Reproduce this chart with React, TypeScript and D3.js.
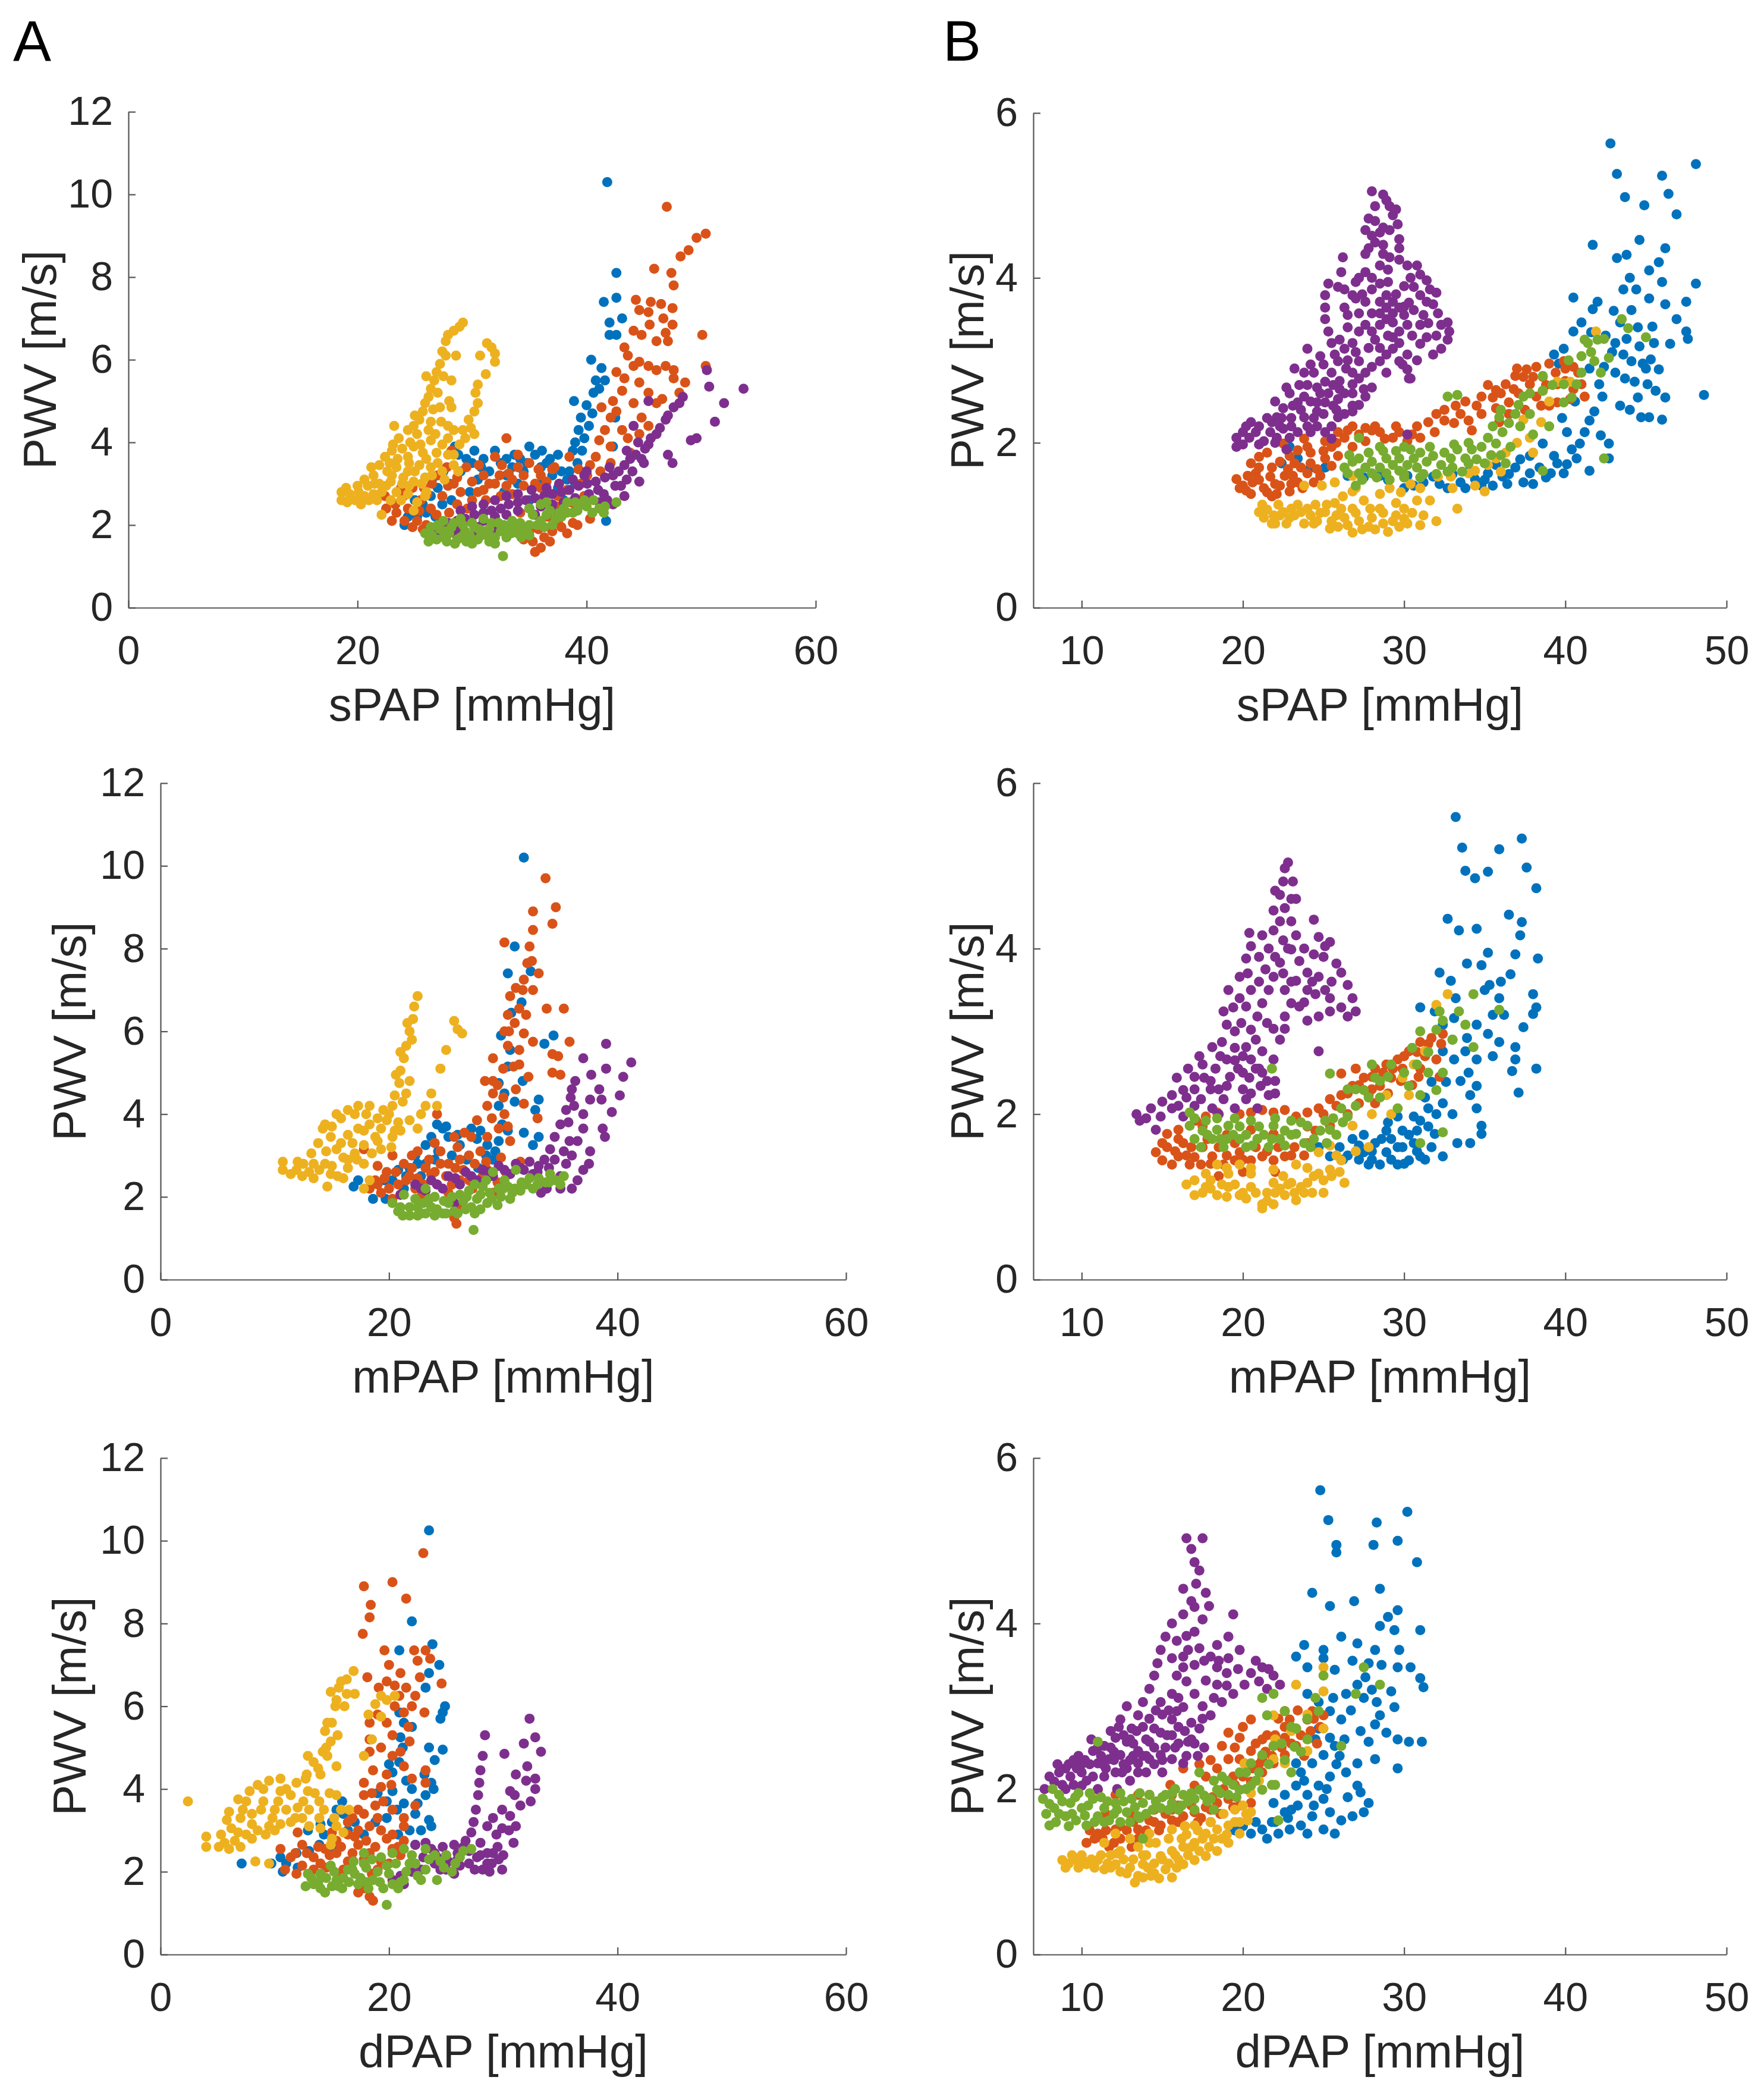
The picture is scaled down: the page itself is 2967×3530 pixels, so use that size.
import { useEffect, useRef } from "react";
import * as d3 from "d3";

// MATLAB default colour order: blue, orange, yellow, purple, green
const seriesColors = ["#0072BD", "#D95319", "#EDB120", "#7E2F8E", "#77AC30"];

const pwvTicksA = [0, 2, 4, 6, 8, 10, 12];
const pwvTicksB = [0, 2, 4, 6];
const papTicksA = [0, 20, 40, 60];
const papTicksB = [10, 20, 30, 40, 50];

// points are flat lists: x, y, x, y, ...
// ---- A, sPAP ----
const a1Blue = [
  41.8, 10.3, 42.6, 8.1, 41.5, 7.4, 42.6, 7.5, 43.1, 7.0, 42.0, 6.9, 42.0, 6.6, 42.6, 6.6, 40.4, 6.0, 41.3, 5.8,
  40.8, 5.5, 40.6, 5.2, 41.1, 5.3, 41.6, 5.5, 40.0, 4.9, 40.5, 4.7, 39.5, 4.6, 40.2, 4.4, 39.3, 4.3, 39.8, 4.1,
  39.0, 4.0, 39.6, 3.8, 38.8, 3.8, 38.9, 5.0, 39.2, 3.5, 38.5, 3.3, 41.7, 2.1, 42.5, 4.6, 42.3, 3.9,
  28.5, 3.9, 29.5, 3.6, 30.2, 3.8, 31.0, 3.6, 32.0, 3.8, 32.5, 3.5, 33.5, 3.4, 34.5, 3.3, 35.5, 3.7, 36.1, 3.8,
  36.5, 3.5, 37.0, 3.2, 37.8, 3.3, 38.3, 3.1, 37.5, 2.9, 36.0, 3.0, 34.0, 3.0, 33.0, 3.2, 31.5, 3.3, 30.5, 3.1,
  29.0, 3.3, 28.0, 3.0, 27.0, 2.9, 26.4, 2.7, 27.4, 2.5, 26.0, 2.3, 25.2, 2.2, 24.4, 2.2, 24.1, 2.0, 25.0, 2.6,
  26.8, 2.2, 28.2, 2.6, 35.0, 2.6, 38.0, 2.6, 39.0, 3.0, 40.0, 3.3, 29.8, 2.8, 32.8, 2.8, 34.8, 3.5, 36.8, 3.6,
  33.7, 3.7, 30.8, 3.4, 36.0, 3.4, 37.5, 3.7, 35.0, 3.9, 33.0, 3.6, 34.2, 3.6, 30.0, 3.5, 28.8, 3.7, 27.5, 3.3,
  26.5, 3.1, 25.7, 2.5,
];
const a1Orange = [
  47.0, 9.7, 50.4, 9.05, 49.6, 8.95, 48.9, 8.65, 48.2, 8.5, 45.9, 8.2, 47.4, 8.1, 47.6, 7.8,
  44.3, 7.45, 45.6, 7.4, 46.5, 7.35, 47.5, 7.25, 44.6, 7.2, 45.4, 7.15, 46.7, 7.0, 47.5, 6.85, 45.5, 6.85, 44.1, 6.7,
  46.9, 6.65, 44.8, 6.6, 46.1, 6.45, 47.1, 6.45, 50.1, 6.6, 43.3, 6.3, 43.6, 6.1, 44.1, 5.85, 44.6, 5.95, 45.4, 5.85,
  46.1, 5.75, 46.9, 5.85, 47.6, 5.75, 50.4, 5.85, 47.6, 5.55, 42.6, 5.7, 43.3, 5.55, 44.6, 5.45, 48.6, 5.45, 48.1, 5.2,
  43.1, 5.25, 45.4, 5.2, 46.6, 5.05, 42.3, 5.0, 44.1, 4.95, 46.1, 4.95, 42.6, 4.75, 44.8, 4.6, 42.1, 4.6, 41.3, 4.85,
  43.1, 4.3, 41.6, 4.3, 45.4, 4.4, 44.6, 4.2, 41.1, 4.05, 42.1, 3.9, 43.6, 4.1, 43.8, 3.75, 40.8, 3.65, 40.3, 3.45,
  42.1, 3.5, 40.05, 3.2, 41.2, 3.3, 38.5, 3.65, 37.2, 3.4, 39.3, 3.35,
  33.0, 4.1, 28.2, 3.8, 32.0, 3.65, 32.6, 3.45, 34.0, 3.4, 35.0, 3.5, 33.2, 3.25, 34.5, 3.2, 36.0, 3.2, 31.0, 3.2,
  30.0, 3.05, 28.7, 3.15, 27.9, 2.95, 29.0, 2.8, 31.0, 2.85, 32.0, 3.0, 33.0, 2.95, 34.5, 2.95, 36.0, 2.9, 27.4, 2.7,
  28.7, 2.5, 30.0, 2.6, 26.4, 2.4, 26.9, 2.25, 25.4, 2.35, 24.4, 2.4, 22.9, 2.6, 22.4, 2.7, 23.4, 2.3, 24.1, 2.1,
  25.2, 2.1, 25.7, 1.9, 23.8, 2.9, 25.8, 2.9,
  35.0, 1.85, 34.5, 1.65, 35.3, 1.6, 36.0, 1.45, 35.5, 1.35, 36.3, 1.7, 37.0, 1.85, 37.8, 1.95, 38.3, 1.8, 38.8, 2.05,
  39.0, 2.35, 39.8, 2.7, 40.3, 2.15, 39.5, 3.0, 38.3, 2.85, 37.5, 2.7, 33.8, 1.9, 36.6, 2.2, 37.4, 2.45, 34.2, 2.3,
  23.3, 2.5, 24.0, 2.7, 24.8, 2.9, 25.5, 2.6, 26.1, 2.75, 26.5, 3.0, 27.0, 3.2, 27.8, 3.4, 28.4, 3.0, 29.5, 3.4,
  30.5, 2.8, 30.6, 3.45, 31.5, 3.0, 32.4, 3.2, 33.5, 3.1, 34.0, 3.7, 35.5, 3.0, 35.8, 3.35, 36.5, 3.05, 37.0, 3.35,
  33.5, 2.75, 32.5, 2.7, 31.2, 2.6, 29.6, 2.4, 28.0, 2.3, 27.5, 2.05, 26.0, 2.0, 24.8, 1.95, 23.0, 2.1, 22.5, 2.4,
  36.8, 1.6, 35.8, 1.9, 37.5, 2.1, 38.0, 2.3, 38.6, 2.55, 39.2, 2.0,
];
const a1Yellow = [
  29.2, 6.9, 28.9, 6.8, 28.4, 6.7, 27.9, 6.6, 27.7, 6.45, 27.4, 6.2, 27.7, 6.1, 27.2, 5.9, 26.9, 5.7, 26.7, 5.5,
  26.4, 5.3, 26.2, 5.1, 25.9, 4.95, 25.7, 4.75, 27.2, 4.85, 28.2, 4.85, 25.4, 4.55, 24.9, 4.4, 24.4, 4.3, 25.2, 4.2,
  26.2, 4.3, 26.4, 4.05, 27.4, 3.95, 28.4, 4.3, 29.2, 4.3, 29.4, 4.1, 23.6, 4.1, 23.1, 3.95, 23.9, 3.85, 24.4, 3.65,
  24.9, 3.9, 25.7, 3.75, 26.9, 3.75, 27.9, 3.7, 28.9, 3.95, 22.4, 3.65, 21.9, 3.45, 22.6, 3.3, 23.4, 3.4, 24.4, 3.3,
  25.4, 3.45, 26.4, 3.4, 27.4, 3.3, 28.4, 3.45, 21.4, 3.2, 21.9, 3.0, 22.9, 3.05, 23.9, 3.0, 24.9, 3.05, 25.9, 3.15,
  20.9, 2.95, 20.1, 2.8, 19.3, 2.75, 18.6, 2.8, 18.6, 2.6, 19.1, 2.55, 19.8, 2.6, 20.6, 2.7, 21.4, 2.75, 22.1, 2.8,
  23.4, 2.8, 24.4, 2.75, 25.2, 2.55, 24.9, 2.35, 22.1, 2.25, 26.0, 2.8, 20.3, 2.5,
  31.3, 6.4, 31.7, 6.3, 32.0, 6.15, 32.0, 5.95, 30.7, 6.1, 31.2, 5.65, 30.5, 5.4, 30.3, 5.2, 30.5, 4.95, 30.2, 4.75,
  29.7, 4.55, 29.9, 4.35, 30.2, 4.2,
  20.0, 2.95, 20.6, 3.1, 21.2, 3.4, 21.0, 2.6, 21.7, 2.6, 22.5, 2.95, 23.0, 3.2, 23.5, 3.6, 23.0, 3.8, 22.9, 2.6,
  23.8, 2.6, 24.0, 3.15, 24.5, 3.5, 24.6, 4.0, 25.0, 3.3, 25.5, 3.95, 25.6, 3.0, 26.0, 3.6, 26.5, 3.2, 26.8, 4.2,
  27.0, 3.5, 27.3, 4.5, 27.6, 3.1, 27.9, 4.1, 28.0, 5.0, 28.4, 3.7, 28.2, 5.5, 28.6, 6.1, 27.0, 5.2, 26.6, 4.8,
  24.5, 2.95, 23.2, 4.4, 22.8, 3.5, 21.5, 3.0, 20.2, 2.65, 19.0, 2.9, 25.9, 2.7, 26.4, 4.5, 27.9, 4.4, 28.8, 3.3,
  25.0, 4.65, 26.0, 5.6, 27.5, 5.6,
];
const a1Purple = [
  53.7, 5.3, 52.0, 4.95, 51.2, 4.5, 50.5, 5.75, 50.7, 5.35, 49.6, 4.1, 49.1, 4.05, 48.4, 5.1, 48.1, 4.95, 47.6, 4.85,
  47.1, 4.65, 46.9, 4.55, 46.4, 4.35, 46.1, 4.2, 45.6, 4.1, 45.4, 3.95, 45.1, 3.85, 45.4, 5.0, 44.1, 4.4, 44.3, 3.7,
  43.8, 3.6, 43.3, 3.45, 42.8, 3.3, 47.1, 3.7, 47.5, 3.5, 44.6, 3.05, 43.3, 2.7, 41.8, 2.6, 42.3, 2.5, 44.8, 3.6,
  42.3, 3.2, 41.6, 3.15, 40.8, 3.05, 40.05, 3.0, 39.3, 2.95, 38.5, 2.85, 37.8, 2.8, 37.0, 2.75, 36.3, 2.7, 35.5, 2.65,
  34.7, 2.6, 34.0, 2.55, 33.2, 2.5, 32.5, 2.4, 31.7, 2.35, 31.0, 2.3, 30.2, 2.25, 29.4, 2.15, 28.7, 2.1, 27.9, 2.05,
  27.2, 1.95, 26.4, 1.9,
  41.0, 2.85, 40.2, 2.75, 39.0, 2.65, 38.0, 2.55, 37.0, 2.5, 36.0, 2.45, 35.0, 2.4, 34.0, 2.35, 33.0, 2.25, 32.0, 2.2,
  31.0, 2.1, 30.0, 2.05, 29.0, 1.95, 28.0, 1.9, 27.0, 1.8,
  39.8, 3.2, 38.8, 3.1, 37.6, 3.0, 36.5, 2.9, 35.2, 2.85, 34.0, 2.75, 33.0, 2.7, 32.0, 2.6, 31.0, 2.5, 30.0, 2.45,
  29.0, 2.35, 30.2, 1.8, 32.5, 1.95, 41.1, 2.55, 40.0, 3.3,
  28.5, 1.8, 30.5, 1.95, 32.0, 1.9, 33.5, 2.05, 35.5, 2.25, 37.5, 2.3, 39.5, 2.5, 41.5, 2.75, 42.5, 2.95, 43.5, 3.1,
  43.0, 2.95, 44.0, 3.3, 45.0, 3.5, 42.0, 3.4, 43.5, 3.8, 44.5, 4.0,
];
const a1Green = [
  25.9, 1.8, 26.4, 1.95, 26.9, 1.65, 27.7, 1.85, 28.4, 2.05, 28.7, 1.65, 29.4, 1.85, 30.0, 2.05, 30.5, 1.65, 31.0, 1.85,
  31.7, 2.05, 32.0, 1.7, 33.0, 1.9, 33.5, 2.1, 34.0, 1.8, 34.5, 1.95, 35.3, 2.25, 36.0, 2.1, 36.8, 2.35, 37.3, 2.15,
  38.0, 2.4, 38.8, 2.3, 39.5, 2.5, 40.6, 2.6, 41.1, 2.4, 42.6, 2.55, 31.0, 2.15, 35.0, 2.4, 36.0, 2.5, 32.7, 1.25,
  26.5, 1.75, 27.2, 1.9, 27.5, 1.7, 28.0, 1.8, 29.0, 1.7, 29.8, 1.75, 30.8, 1.75, 31.5, 1.9, 32.5, 1.85, 33.4, 1.8,
  34.2, 2.05, 35.0, 2.0, 29.5, 1.6, 31.5, 1.6, 33.0, 1.7, 28.2, 1.95, 30.2, 1.95, 32.3, 2.05, 36.5, 2.25, 37.8, 2.2,
  39.2, 2.35, 40.0, 2.45, 41.6, 2.45, 34.8, 1.85,
  26.2, 1.6, 27.0, 2.0, 27.8, 1.6, 28.5, 1.55, 29.2, 2.0, 30.0, 1.55, 30.6, 1.9, 31.3, 1.75, 32.0, 1.55, 32.8, 2.0,
  33.6, 1.95, 34.3, 1.7, 35.0, 1.75, 35.7, 2.0, 36.3, 1.95, 37.0, 2.0, 37.6, 2.3, 38.3, 2.3, 39.0, 2.55, 36.5, 2.55,
  38.3, 2.55, 39.8, 2.6, 40.5, 2.3, 41.5, 2.3, 29.0, 2.15, 27.5, 2.1,
];

// ---- A, mPAP ----
const a2Blue = [
  31.8, 10.2, 31.0, 8.05, 30.4, 7.4, 32.4, 7.45, 31.6, 6.7, 30.7, 6.45, 33.6, 5.7, 34.4, 5.9, 29.8, 5.9, 30.6, 5.55,
  30.4, 5.15, 31.7, 4.8, 29.6, 4.75, 30.1, 4.5, 33.1, 4.35, 32.8, 4.1, 29.6, 4.2, 29.9, 3.75, 31.8, 3.55, 33.1, 3.45,
  29.6, 3.35, 32.6, 3.25, 31.0, 4.3,
  24.2, 3.75, 24.7, 3.65, 25.2, 3.45, 23.7, 3.45, 23.2, 3.25, 22.3, 3.0, 21.8, 2.7, 20.8, 2.65, 20.3, 2.4, 16.9, 2.25,
  17.3, 2.4, 18.6, 1.95, 19.6, 2.4, 26.2, 3.25, 27.2, 3.65, 27.7, 3.4, 28.6, 3.25, 29.1, 2.9, 23.2, 2.8, 21.3, 2.2,
  19.7, 1.95, 25.5, 3.0, 24.3, 3.1, 22.8, 2.5, 26.8, 2.9, 27.8, 2.7,
  21.5, 2.5, 22.5, 2.8, 24.0, 2.9, 25.0, 3.7, 26.0, 3.5, 28.0, 3.6, 29.3, 3.1, 30.4, 3.6, 28.5, 3.0,
];
const a2Orange = [
  33.7, 9.7, 32.6, 8.9, 34.6, 9.0, 34.3, 8.6, 32.6, 8.45, 30.1, 8.15, 32.3, 8.05, 32.1, 7.65, 33.1, 7.4, 31.8, 7.25,
  31.1, 7.05, 32.6, 7.0, 30.6, 6.85, 33.8, 6.55, 35.3, 6.55, 31.4, 6.55, 30.4, 6.4, 32.0, 6.4, 30.1, 6.0, 31.8, 5.95,
  32.6, 5.75, 35.8, 5.75, 30.4, 5.65, 31.4, 5.55, 29.1, 5.35, 34.3, 5.45, 34.8, 5.4, 30.9, 5.15, 29.1, 4.8, 34.3, 5.0,
  35.0, 4.95, 28.4, 4.8, 31.1, 4.6, 29.1, 4.5, 31.8, 4.25, 28.6, 4.2, 30.1, 4.0, 27.7, 3.85, 29.6, 3.65, 28.6, 3.45,
  30.6, 3.35, 27.2, 3.45, 25.7, 3.45, 33.0, 3.9, 32.2, 4.9,
  24.2, 4.0, 26.2, 2.9, 25.2, 2.8, 23.2, 2.7, 21.3, 2.8, 19.8, 2.6, 18.8, 2.4, 18.3, 2.2, 19.3, 2.1, 20.3, 1.95,
  22.3, 2.2, 24.2, 2.3, 26.2, 2.4, 28.2, 2.5, 21.8, 2.5, 23.7, 2.55, 25.2, 2.1, 26.2, 1.75, 25.7, 1.5, 25.9, 1.35,
  29.1, 2.1, 20.3, 3.0, 17.8, 3.15, 22.5, 3.1, 24.5, 3.1, 27.0, 3.0, 28.5, 2.85, 20.8, 2.3, 22.8, 2.0, 27.3, 2.2,
  30.2, 2.6, 31.5, 2.85, 19.0, 2.75,
  19.0, 2.3, 19.6, 2.45, 20.0, 2.2, 20.6, 2.6, 21.0, 2.05, 21.5, 2.4, 22.0, 2.7, 22.5, 2.45, 23.0, 2.3, 23.5, 2.9,
  24.0, 2.6, 24.5, 2.8, 25.0, 2.5, 25.5, 2.3, 25.8, 2.7, 26.5, 2.65, 27.0, 2.4, 27.5, 2.8, 28.0, 3.1, 28.6, 2.65,
  29.5, 2.35, 29.8, 2.95, 26.0, 3.2, 24.0, 3.3, 22.0, 3.0, 26.6, 3.55, 29.0, 3.9, 30.0, 4.4, 30.4, 3.7, 29.5, 4.7,
  31.4, 5.2, 30.0, 5.1, 30.5, 6.0, 31.0, 6.2, 31.7, 7.0, 32.5, 7.7,
];
const a2Yellow = [
  22.5, 6.85, 22.2, 6.6, 22.1, 6.3, 21.8, 6.0, 21.5, 5.65, 21.3, 5.35, 21.0, 5.05, 20.9, 4.75, 20.5, 4.45, 20.3, 4.2,
  19.8, 3.85, 21.8, 4.8, 25.7, 6.25, 26.0, 6.05, 26.4, 5.95, 25.0, 5.55, 24.5, 5.1, 23.7, 4.5, 23.2, 4.2, 24.2, 4.2,
  22.8, 4.0, 21.8, 3.85, 22.5, 3.65, 18.3, 4.2, 17.3, 4.2, 16.4, 4.1, 15.4, 4.0, 14.4, 3.75, 14.2, 3.65, 14.9, 3.45,
  15.4, 3.15, 16.4, 2.9, 17.8, 3.25, 18.8, 3.45, 19.3, 3.65, 17.3, 3.65, 16.4, 3.5, 18.3, 3.75, 20.3, 3.45, 19.3, 3.15,
  17.8, 2.8, 17.0, 3.05, 13.2, 3.05, 13.4, 2.8, 14.4, 2.8, 16.4, 2.7, 11.9, 2.65, 10.7, 2.85, 10.7, 2.65, 11.4, 2.55,
  12.4, 2.5, 13.4, 2.45, 14.9, 2.55, 14.6, 2.25, 17.8, 2.2, 18.3, 2.4, 15.8, 3.3, 21.0, 3.6, 20.0, 4.0,
  13.0, 2.6, 13.9, 2.65, 15.0, 2.75, 15.5, 2.5, 16.0, 2.95, 16.8, 3.3, 17.2, 2.9, 17.8, 3.6, 18.5, 3.05, 19.0, 3.9,
  19.5, 4.1, 20.2, 3.2, 20.8, 3.8, 21.2, 4.3, 20.6, 4.95, 21.0, 5.5, 21.6, 6.2, 22.0, 5.8, 21.5, 4.5, 15.0, 3.7,
  15.8, 3.9, 14.5, 3.1, 12.5, 2.8, 16.0, 2.45, 13.8, 3.3, 12.0, 2.85, 18.0, 4.0, 19.0, 3.35, 17.0, 4.0, 20.5, 3.6,
];
const a2Purple = [
  39.0, 5.7, 41.2, 5.25, 40.5, 4.9, 39.0, 5.1, 37.0, 5.35, 37.7, 4.95, 38.4, 4.6, 37.6, 4.35, 38.6, 4.35, 40.2, 4.45,
  39.5, 4.05, 37.0, 4.0, 36.0, 4.6, 36.3, 4.8, 35.9, 4.4, 35.5, 4.1, 35.0, 3.75, 34.5, 3.45, 34.1, 3.15, 33.6, 2.9,
  33.1, 2.75, 38.7, 3.65, 38.9, 3.45, 37.0, 3.65, 36.5, 3.35, 35.8, 3.35, 35.3, 3.1, 37.6, 3.1, 37.5, 2.8, 37.0, 2.65,
  36.5, 2.4, 36.0, 2.2, 35.0, 2.2, 33.3, 2.1, 36.2, 4.2, 35.7, 3.8,
  23.7, 2.4, 25.2, 2.5, 26.7, 2.6, 28.2, 2.65, 29.6, 2.75, 31.1, 2.8, 32.3, 2.85, 32.6, 2.55, 23.2, 2.15, 24.7, 2.2,
  26.2, 2.3, 27.7, 2.4, 29.1, 2.5, 30.6, 2.55, 22.3, 2.3, 25.7, 1.85, 31.8, 2.65, 34.0, 2.7, 21.0, 2.05,
  24.2, 2.3, 25.8, 2.45, 27.2, 2.5, 28.7, 2.6, 30.1, 2.65, 31.5, 2.7, 33.0, 2.6, 34.2, 2.4, 35.0, 2.5, 22.8, 2.2,
  33.8, 2.2, 34.5, 2.9, 35.5, 2.8, 36.0, 3.0,
];
const a2Green = [
  20.3, 1.85, 20.8, 1.65, 21.8, 1.75, 22.3, 1.95, 22.8, 1.6, 23.7, 1.75, 24.7, 1.6, 25.2, 1.85, 26.2, 2.05, 26.7, 1.7,
  27.7, 1.95, 28.2, 2.25, 28.6, 1.85, 29.6, 2.2, 30.1, 2.4, 30.6, 1.95, 31.6, 2.35, 32.6, 2.2, 33.1, 2.45, 34.1, 2.55,
  35.3, 2.5, 29.1, 2.6, 31.1, 2.65, 23.2, 2.2, 21.3, 2.05, 27.4, 1.2,
  21.2, 1.55, 22.5, 1.75, 23.5, 1.95, 24.2, 1.7, 25.7, 1.65, 26.5, 1.9, 27.2, 1.75, 28.0, 2.05, 29.0, 1.95, 29.8, 2.0,
  31.0, 2.2, 32.0, 2.3, 24.8, 1.9, 27.0, 2.15, 33.7, 2.35, 34.6, 2.4, 30.4, 2.25,
  21.0, 1.75, 21.8, 1.55, 22.5, 1.55, 23.2, 1.6, 23.0, 1.85, 24.0, 1.55, 24.0, 2.0, 25.0, 1.6, 25.5, 2.0, 26.0, 1.6,
  26.8, 2.0, 27.5, 1.6, 28.0, 1.7, 28.8, 2.1, 29.5, 1.8, 30.0, 2.2, 30.8, 2.1, 31.5, 2.15, 32.3, 2.45, 33.0, 2.3,
  34.0, 2.35, 35.0, 2.3, 28.5, 2.4, 27.5, 2.3,
];

// ---- A, dPAP ----
const a3Blue = [
  23.5, 10.25, 22.0, 8.05, 20.9, 7.35, 23.8, 7.5, 24.4, 7.0, 23.5, 6.8, 23.2, 6.45, 24.7, 5.85, 24.9, 6.0, 24.5, 5.7,
  20.9, 5.85, 21.3, 5.6, 22.0, 5.5, 21.0, 5.25, 21.2, 5.0, 23.5, 5.0, 24.7, 4.95, 20.9, 4.65, 24.0, 4.7, 20.3, 4.4,
  23.1, 4.35, 23.7, 4.15, 23.9, 4.0, 23.2, 3.85, 20.3, 3.95, 19.8, 3.7, 21.3, 3.65, 22.5, 3.65, 20.7, 3.5, 22.3, 3.4,
  23.5, 3.25, 23.7, 3.1, 19.8, 3.3, 21.8, 3.0, 15.9, 3.7, 15.4, 3.5, 12.9, 3.0, 10.5, 2.35, 10.7, 2.0, 7.1, 2.2,
  9.7, 2.2, 11.9, 2.45, 13.9, 2.65, 16.4, 3.0, 17.8, 2.9, 22.3, 2.65, 20.8, 2.9, 15.0, 3.2, 14.3, 2.9,
  11.0, 2.2, 12.0, 2.1, 13.0, 2.5, 14.0, 3.15, 15.0, 2.6, 16.0, 3.4, 17.0, 3.2, 18.8, 3.2, 19.0, 3.9, 20.0, 4.6,
  22.0, 4.0, 22.8, 3.0, 21.5, 4.2,
];
const a3Orange = [
  23.0, 9.7, 17.8, 8.9, 20.3, 9.0, 21.5, 8.6, 18.4, 8.45, 18.3, 8.15, 17.7, 7.75, 19.6, 7.35, 22.2, 7.35, 23.2, 7.35,
  23.6, 7.15, 22.5, 7.1, 21.0, 6.8, 19.8, 6.6, 18.1, 6.7, 19.1, 6.45, 21.5, 6.45, 20.9, 6.25, 24.6, 6.55, 22.3, 6.25,
  20.5, 6.0, 21.3, 5.85, 23.1, 5.85, 19.8, 5.6, 18.3, 5.6, 18.3, 5.2, 20.3, 5.3, 21.8, 5.15, 19.3, 5.0, 18.3, 4.9,
  20.3, 4.8, 21.3, 4.55, 18.6, 4.45, 19.8, 4.35, 23.2, 4.45, 22.0, 4.25, 19.3, 4.05, 17.8, 4.15, 23.2, 4.15, 17.8, 3.85,
  18.8, 3.6, 17.3, 3.5, 20.3, 3.5, 21.3, 3.3, 19.0, 3.3, 22.3, 3.6,
  10.5, 2.55, 11.4, 2.35, 10.9, 2.05, 11.9, 1.95, 12.4, 2.15, 13.4, 2.35, 14.4, 2.55, 15.4, 2.75, 16.4, 2.9, 17.3, 3.0,
  18.3, 3.1, 19.3, 3.0, 20.3, 2.9, 21.3, 2.75, 17.3, 2.65, 15.4, 2.45, 20.3, 2.55, 13.4, 2.05, 16.4, 2.25, 19.3, 2.25,
  17.8, 1.6, 18.3, 1.4, 17.3, 1.5, 18.6, 1.3, 16.4, 3.2, 12.4, 2.65, 14.5, 2.1, 18.3, 2.45, 15.5, 1.95, 18.5, 1.95,
  21.0, 2.4, 12.0, 2.95,
  11.8, 2.45, 12.8, 2.45, 13.8, 2.6, 14.0, 2.2, 14.8, 2.4, 15.0, 2.95, 15.8, 2.6, 16.0, 2.05, 16.8, 2.45, 17.0, 2.85,
  17.8, 2.3, 18.0, 2.75, 18.8, 2.6, 19.0, 2.05, 19.8, 2.8, 20.0, 2.2, 20.8, 2.6, 21.3, 3.1, 16.8, 3.3, 17.8, 3.4,
  18.5, 3.9, 19.5, 3.7, 20.2, 4.1, 21.0, 4.9, 21.7, 5.5, 22.0, 6.0, 22.7, 6.7, 20.5, 6.5, 19.0, 5.8, 20.0, 7.0,
];
const a3Yellow = [
  16.9, 6.85, 16.3, 6.65, 15.6, 6.45, 14.9, 6.35, 15.4, 6.15, 16.1, 6.0, 14.6, 5.6, 14.4, 5.4, 14.9, 5.15, 14.2, 4.9,
  13.4, 4.65, 12.9, 4.8, 14.6, 4.8, 15.4, 4.55, 14.0, 4.35, 12.7, 4.25, 11.9, 4.15, 10.5, 4.25, 9.5, 4.2, 8.5, 4.1,
  7.8, 3.95, 7.5, 3.7, 9.0, 3.7, 10.5, 3.95, 11.4, 3.85, 12.9, 3.95, 13.9, 3.7, 12.4, 3.3, 11.4, 3.2, 10.5, 3.15,
  9.5, 3.1, 8.5, 3.0, 7.5, 2.9, 6.5, 2.75, 5.6, 2.7, 5.1, 2.6, 6.0, 2.55, 5.8, 3.25, 6.0, 3.45, 4.0, 2.85,
  4.0, 2.6, 2.4, 3.7, 8.3, 2.25, 9.5, 2.2, 13.9, 3.3, 15.4, 3.1, 14.9, 2.65, 18.8, 6.05, 19.3, 6.25, 19.8, 6.15,
  20.5, 6.25, 19.3, 5.75, 17.8, 4.8, 15.4, 3.85, 18.5, 5.2, 16.5, 3.5, 7.0, 3.3, 10.0, 3.5, 12.0, 3.55, 8.0, 3.4,
  5.3, 2.9, 6.2, 3.05, 6.8, 2.95, 7.2, 3.5, 8.0, 3.15, 8.8, 3.5, 9.2, 2.9, 9.8, 3.3, 10.3, 3.7, 11.0, 3.5,
  11.8, 3.3, 12.5, 3.7, 13.0, 3.5, 13.5, 3.9, 14.3, 3.5, 14.8, 3.9, 15.2, 3.3, 15.8, 3.5, 16.0, 2.95, 15.0, 2.8,
  14.0, 3.05, 13.0, 3.1, 12.8, 4.35, 13.8, 4.5, 14.5, 5.0, 15.0, 5.6, 15.3, 6.0, 15.8, 6.6, 16.3, 6.3, 15.5, 5.3,
  9.0, 4.0, 11.0, 4.0, 7.0, 2.6, 8.0, 2.8, 6.8, 3.75, 10.0, 3.0, 17.0, 6.3, 18.2, 5.8,
];
const a3Purple = [
  32.3, 5.7, 32.8, 5.25, 33.3, 4.9, 31.8, 5.1, 32.1, 4.55, 30.1, 4.85, 31.1, 4.35, 32.8, 4.25, 32.8, 4.0, 30.6, 3.95,
  29.9, 3.5, 30.6, 3.35, 29.1, 3.3, 29.9, 3.05, 28.6, 3.1, 29.4, 2.9, 31.1, 3.1, 30.9, 2.7, 28.6, 2.2, 29.9, 2.05,
  31.5, 3.6, 32.4, 3.7,
  28.4, 5.3, 28.2, 4.8, 28.0, 4.45, 27.9, 4.15, 27.8, 3.85, 27.6, 3.5, 27.4, 3.2, 27.2, 2.95, 26.7, 2.75, 25.7, 2.65,
  24.7, 2.6, 23.7, 2.55, 24.2, 2.35, 25.2, 2.25, 26.2, 2.15, 27.7, 2.35, 28.6, 2.45, 28.2, 2.05, 25.7, 1.95, 20.3, 1.8,
  21.3, 1.7, 22.8, 2.05, 22.3, 2.65, 23.2, 2.7, 29.1, 2.45, 29.6, 2.3, 27.0, 2.5, 26.0, 2.45, 28.0, 2.7, 24.5, 2.05,
  23.0, 2.35,
  24.0, 2.45, 25.0, 2.4, 26.0, 2.3, 27.0, 2.2, 28.0, 2.4, 29.0, 2.2, 29.5, 2.6, 30.0, 2.4, 28.8, 2.0, 27.5, 2.05,
  26.5, 2.6, 25.0, 2.05, 24.0, 2.2, 22.0, 2.0, 21.0, 1.9, 30.5, 3.0, 31.0, 3.85, 32.0, 4.2,
];
const a3Green = [
  12.9, 1.95, 13.4, 1.7, 12.7, 1.65, 14.9, 2.15, 15.4, 1.8, 15.9, 1.6, 16.4, 2.05, 16.9, 2.25, 17.8, 2.45, 19.3, 2.35,
  20.3, 2.45, 21.3, 2.55, 23.2, 2.55, 17.3, 1.7, 20.3, 1.7, 21.3, 1.8, 23.2, 2.05, 26.2, 2.35, 27.2, 2.55, 24.2, 1.8,
  19.8, 1.2, 14.4, 1.5,
  14.0, 1.95, 15.0, 1.65, 16.0, 1.85, 17.0, 1.95, 18.0, 2.1, 18.6, 1.8, 19.0, 2.0, 19.8, 2.15, 21.8, 2.2, 22.5, 1.9,
  24.8, 2.1, 25.5, 2.0, 13.8, 1.75, 18.2, 1.6, 22.0, 2.4, 24.0, 2.4,
  13.2, 1.85, 14.0, 1.6, 14.5, 1.85, 15.2, 2.0, 15.6, 1.65, 16.5, 1.75, 16.8, 2.05, 17.5, 1.85, 17.8, 2.2, 18.5, 2.3,
  19.2, 1.75, 20.0, 1.95, 20.6, 2.2, 21.0, 1.75, 21.5, 2.0, 22.3, 2.2, 22.8, 1.8, 23.5, 2.3, 24.5, 2.25, 25.0, 2.4,
  25.8, 2.2, 26.5, 2.5, 20.8, 1.6, 19.5, 1.6, 18.0, 1.75,
];

// ---- B, sPAP ----
const b1Blue = [
  42.8, 5.63, 43.2, 5.26, 48.1, 5.38, 46.0, 5.24, 43.7, 4.98, 46.4, 5.02, 44.9, 4.88, 46.9, 4.77, 41.7, 4.4, 44.6, 4.46,
  46.2, 4.36, 43.2, 4.24, 43.8, 4.28, 45.8, 4.19, 45.2, 4.09, 44.0, 4.0, 46.0, 3.95, 48.1, 3.93, 40.5, 3.76, 43.6, 3.86,
  44.4, 3.86, 45.2, 3.75, 46.2, 3.68, 47.5, 3.71, 42.0, 3.71, 41.7, 3.62, 44.1, 3.61, 43.4, 3.46, 46.9, 3.5, 41.0, 3.46,
  40.5, 3.35, 41.6, 3.34, 45.4, 3.41, 47.5, 3.35, 47.6, 3.26, 39.9, 3.14, 43.1, 3.21, 43.8, 3.26, 44.6, 3.17, 45.5, 3.21,
  39.3, 3.07, 39.6, 2.96, 42.9, 3.1, 43.6, 3.07, 44.1, 2.99, 44.8, 2.96, 45.3, 3.01, 45.8, 2.89, 48.6, 2.58, 42.4, 2.92,
  43.1, 2.85, 43.7, 2.78, 44.3, 2.74, 45.1, 2.71, 45.6, 2.63, 46.2, 2.55, 42.1, 2.71, 42.3, 2.56, 43.4, 2.45, 44.0, 2.4,
  44.7, 2.31, 45.2, 2.31, 46.0, 2.28, 41.8, 2.38, 41.5, 2.27, 41.2, 2.13, 42.2, 2.09, 42.7, 1.99, 40.9, 1.99, 40.4, 1.92,
  40.7, 1.81, 40.1, 1.74, 39.9, 1.63, 41.5, 1.66, 42.7, 1.81,
  38.4, 1.7, 39.1, 1.63, 37.8, 1.63, 36.9, 1.7, 36.1, 1.59, 35.2, 1.63, 34.4, 1.56, 33.5, 1.52, 32.7, 1.45, 37.4, 1.52,
  35.7, 1.73, 37.8, 1.84, 39.3, 1.84, 38.6, 1.99, 40.1, 2.13, 31.8, 1.59, 30.6, 1.48, 25.1, 1.7, 24.2, 1.7, 23.4, 1.81,
  22.9, 1.95, 33.0, 1.62, 34.8, 1.48, 36.4, 1.5, 29.0, 1.55, 27.5, 1.58, 22.4, 1.75,
  30.0, 1.45, 31.2, 1.52, 32.2, 1.5, 33.8, 1.45, 35.5, 1.48, 36.5, 1.62, 38.0, 1.5, 38.8, 1.58, 39.5, 1.75, 37.2, 1.8,
  34.0, 1.65, 35.0, 1.55, 26.5, 1.6, 28.5, 1.6, 30.2, 1.6, 39.8, 2.3, 40.6, 2.5, 41.5, 2.9, 42.5, 3.3, 43.0, 3.6,
  44.5, 3.4, 45.0, 2.9, 46.5, 3.2, 44.5, 2.55,
];
const b1Orange = [
  19.6, 1.56, 20.0, 1.48, 20.6, 1.52, 21.3, 1.45, 20.8, 1.63, 21.7, 1.59, 22.3, 1.48, 22.9, 1.41, 22.1, 1.38, 23.4, 1.52,
  24.0, 1.63, 24.4, 1.52, 23.6, 1.7, 22.3, 1.77, 23.4, 1.91, 25.1, 2.02, 25.9, 2.13, 26.8, 2.2, 27.6, 2.18, 28.5, 2.13,
  29.3, 2.06, 30.2, 2.02, 31.0, 2.06, 31.9, 2.13, 32.5, 2.27, 33.5, 2.35, 34.8, 2.56, 35.7, 2.64, 36.3, 2.71, 36.9, 2.81,
  37.6, 2.89, 38.2, 2.92, 39.0, 2.96, 39.9, 2.99, 40.5, 2.92, 41.0, 2.71, 41.2, 2.56, 39.5, 2.71, 37.8, 2.71, 37.1, 2.6,
  36.5, 2.49, 35.7, 2.42, 34.8, 2.35, 34.0, 2.27, 33.1, 2.24, 36.5, 2.35, 39.5, 2.49, 40.3, 2.53, 38.2, 2.56, 21.5, 1.88,
  22.9, 1.84, 24.2, 1.88, 25.5, 1.95, 26.3, 2.06, 25.1, 1.81, 25.9, 1.84, 26.8, 1.95, 27.6, 2.02, 22.5, 1.99, 29.7, 2.13,
  24.8, 1.6, 25.5, 1.72, 21.0, 1.7, 20.2, 1.42, 21.8, 1.35, 23.1, 1.6, 28.2, 2.2, 30.8, 2.2, 32.0, 2.35, 33.8, 2.5,
  35.5, 2.55, 38.6, 2.8, 40.8, 2.85, 34.2, 2.15, 35.9, 2.25, 37.5, 2.4, 39.0, 2.45, 40.0, 2.75,
  19.8, 1.45, 20.3, 1.6, 20.5, 1.38, 21.0, 1.55, 21.5, 1.4, 21.8, 1.7, 22.0, 1.5, 22.6, 1.6, 23.0, 1.5, 23.2, 1.75,
  23.7, 1.45, 24.2, 1.75, 24.6, 1.68, 25.0, 1.9, 24.0, 1.95, 25.8, 2.0, 26.5, 2.15, 27.2, 2.1, 28.0, 2.15, 28.8, 2.05,
  29.5, 2.2, 30.5, 2.1, 31.5, 2.25, 32.5, 2.4, 33.2, 2.45, 34.5, 2.45, 35.2, 2.7, 36.0, 2.6, 36.8, 2.65, 37.4, 2.8,
  38.0, 2.8, 38.8, 2.7, 39.4, 2.85, 40.0, 2.9, 40.5, 2.65, 38.5, 2.45, 37.0, 2.9, 21.0, 1.83, 23.8, 2.05, 22.8, 1.68,
  20.5, 1.75,
];
const b1Yellow = [
  21.0, 1.16, 21.5, 1.19, 21.3, 1.09, 21.9, 1.12, 22.5, 1.16, 22.9, 1.09, 23.6, 1.16, 24.2, 1.12, 23.8, 1.02, 24.6, 1.05,
  25.1, 1.16, 25.5, 1.05, 25.9, 0.98, 26.3, 1.09, 26.8, 0.91, 27.2, 1.05, 27.8, 0.98, 28.0, 1.09, 28.7, 1.02, 29.3, 1.05,
  29.7, 0.98, 30.2, 1.02, 28.5, 1.2, 25.7, 1.27, 24.9, 1.48, 23.8, 1.48, 25.7, 1.52, 26.8, 1.41, 28.5, 1.38, 29.1, 1.45,
  29.5, 1.27, 30.8, 1.3, 31.0, 1.45, 32.1, 1.59, 33.3, 1.2, 34.4, 1.48, 35.0, 1.41, 41.9, 3.35, 39.5, 2.74, 39.9, 2.72,
  40.3, 2.74, 38.6, 2.63, 37.4, 2.28, 37.8, 2.06, 38.0, 1.88, 36.3, 1.88, 35.7, 1.81, 35.2, 1.73, 34.4, 1.66, 34.0, 1.63,
  32.9, 1.59, 22.2, 1.25, 23.0, 1.2, 24.5, 1.25, 26.8, 1.2, 27.5, 1.3, 22.0, 1.02, 31.2, 1.12, 26.8, 1.6, 30.0, 1.2,
  21.2, 1.25, 21.8, 1.02, 22.3, 1.12, 22.7, 1.02, 23.2, 1.12, 23.4, 1.25, 24.0, 1.2, 24.4, 1.02, 24.8, 1.15, 25.2, 1.25,
  25.4, 0.96, 25.8, 1.12, 26.1, 1.2, 26.5, 1.0, 27.0, 1.15, 27.4, 0.95, 27.9, 1.2, 28.2, 0.95, 28.7, 1.15, 29.0, 0.92,
  29.5, 1.12, 30.0, 1.08, 30.5, 1.15, 31.0, 1.0, 31.6, 1.3, 32.0, 1.05, 26.2, 1.35, 27.0, 1.45, 29.8, 1.4, 30.4, 1.5,
  33.0, 1.45, 36.0, 1.65, 37.0, 2.0, 39.0, 2.5, 38.5, 2.25,
];
const b1Purple = [
  19.6, 2.06, 19.6, 1.95, 20.0, 2.13, 20.4, 2.06, 20.8, 2.13, 21.3, 2.02, 21.7, 2.13, 22.1, 2.06, 22.5, 2.17, 22.9, 2.06,
  23.4, 2.13, 24.2, 2.13, 24.6, 2.2, 25.1, 2.13, 25.5, 2.2, 25.9, 2.31, 26.3, 2.35, 22.7, 1.92, 22.1, 2.31, 22.5, 2.42,
  23.4, 2.49, 23.8, 2.56, 22.9, 2.6, 22.7, 2.67, 23.8, 2.85, 24.6, 2.67, 25.1, 2.74, 25.5, 2.85, 24.0, 3.14, 25.9, 2.99,
  26.3, 3.14, 25.1, 2.49, 25.9, 2.53, 26.8, 2.6, 26.8, 2.85, 27.2, 2.99, 26.8, 3.21, 27.2, 3.35, 27.6, 3.43, 27.2, 3.57,
  28.0, 3.57, 27.6, 3.71, 26.3, 3.64, 26.8, 3.79, 26.3, 3.86, 25.9, 3.89, 25.3, 3.93, 25.1, 3.79, 25.1, 3.64, 25.1, 3.5,
  25.3, 3.35, 25.5, 3.21, 25.7, 3.07, 26.1, 4.07, 26.2, 4.25, 27.6, 4.07, 27.2, 4.0, 28.0, 4.0, 28.5, 3.93, 28.9, 3.79,
  29.3, 3.71, 29.7, 3.64, 30.6, 3.61, 31.0, 3.79, 30.6, 3.89, 31.4, 3.71, 31.8, 3.68, 32.3, 3.43, 32.7, 3.46, 32.8, 3.35,
  32.7, 3.25, 32.3, 3.14, 31.8, 3.07, 31.4, 3.28, 31.0, 3.43, 30.2, 3.43, 29.7, 3.35, 29.3, 3.28, 29.7, 3.21, 30.2, 3.07,
  29.7, 2.99, 30.2, 2.89, 30.4, 2.78, 29.3, 3.46, 28.9, 3.5, 28.5, 3.43, 28.0, 3.35, 28.5, 3.57, 28.9, 3.64, 29.3, 3.57,
  28.5, 3.71, 28.0, 3.86, 28.5, 4.15, 28.7, 4.29, 28.7, 4.4, 28.2, 4.43, 27.8, 4.36, 28.0, 4.51, 27.6, 4.58, 27.8, 4.72,
  28.2, 4.69, 28.7, 4.61, 29.1, 4.58, 29.3, 4.76, 29.5, 4.83, 29.1, 4.87, 28.9, 4.94, 28.7, 5.01, 28.0, 5.05, 28.2, 4.87,
  29.7, 4.47, 29.7, 4.36, 29.7, 4.22, 30.2, 4.15, 30.8, 4.15, 31.0, 4.04, 31.4, 3.97, 31.6, 3.86, 32.0, 3.82, 32.1, 3.57,
  27.6, 4.29, 29.3, 3.14, 28.9, 3.07, 28.5, 2.99, 28.0, 2.92, 27.6, 2.85, 27.2, 2.78, 26.8, 2.71, 26.3, 2.6, 28.9, 2.85,
  28.0, 2.67, 27.6, 2.56, 27.2, 2.46, 26.8, 2.38, 30.3, 2.78, 24.6, 2.38, 23.8, 2.31, 24.6, 2.49, 30.2, 2.1, 20.5, 2.25,
  21.5, 2.3, 24.0, 2.7, 26.0, 2.75, 27.0, 3.1, 26.5, 3.4, 27.0, 3.75, 29.0, 4.1, 30.0, 3.9, 31.2, 3.55, 22.0, 2.5,
  24.2, 2.95,
  20.2, 2.2, 21.0, 2.2, 21.8, 2.25, 22.3, 2.2, 23.0, 2.3, 23.1, 2.45, 23.6, 2.4, 24.2, 2.5, 24.4, 2.3, 24.8, 2.6,
  25.3, 2.6, 25.6, 2.45, 26.0, 2.65, 25.0, 2.35, 25.8, 2.4, 23.5, 2.7, 24.4, 2.85, 25.0, 2.95, 25.6, 2.7, 24.8, 3.05,
  26.4, 2.9, 26.0, 3.25, 26.5, 3.0, 23.2, 2.9, 22.4, 2.3, 20.0, 1.98, 21.0, 1.98, 22.0, 2.0, 23.0, 2.2, 24.0, 2.2,
  25.5, 2.05, 26.8, 2.45, 27.5, 2.65, 26.5, 3.55, 27.0, 3.95, 27.4, 3.8, 29.0, 3.95, 29.5, 3.8, 30.0, 3.55, 30.5, 3.3,
  31.0, 3.2, 30.8, 3.0, 31.5, 3.45, 32.0, 3.3, 30.0, 3.65, 29.0, 3.3, 28.5, 3.15, 28.2, 3.25, 27.8, 3.15, 29.9, 2.95,
  30.3, 3.7, 29.6, 4.65, 28.5, 4.55, 29.1, 4.25, 30.4, 4.0,
];
const b1Green = [
  26.3, 1.7, 26.5, 1.63, 26.8, 1.77, 27.2, 1.63, 27.2, 1.81, 27.6, 1.7, 28.0, 1.63, 28.0, 1.77, 28.5, 1.7, 28.9, 1.63,
  28.9, 1.81, 29.3, 1.73, 29.7, 1.66, 29.7, 1.81, 30.2, 1.73, 30.6, 1.81, 30.8, 1.7, 31.0, 1.88, 31.4, 1.77, 31.8, 1.84,
  32.3, 1.73, 32.5, 1.88, 32.9, 1.81, 33.3, 1.92, 33.8, 1.81, 34.2, 1.92, 34.8, 1.95, 35.2, 2.06, 35.7, 1.99, 36.1, 2.13,
  36.5, 2.24, 36.9, 2.35, 37.1, 2.46, 37.4, 2.56, 38.6, 2.63, 39.9, 2.49, 39.9, 2.71, 40.7, 2.71, 41.0, 2.85, 41.8, 2.99,
  41.6, 3.1, 41.4, 3.21, 41.2, 3.25, 42.0, 3.25, 42.4, 3.26, 43.5, 3.5, 43.9, 3.39, 45.0, 3.28, 42.7, 3.03, 42.2, 2.85,
  42.4, 1.81, 38.6, 1.66, 32.7, 2.56, 33.3, 2.58, 27.2, 2.06, 27.0, 1.48, 35.9, 2.31, 37.8, 2.35, 38.6, 2.81, 38.0, 2.1,
  39.0, 2.2, 36.6, 1.95, 34.0, 1.75, 33.0, 1.7, 31.2, 1.62, 30.0, 1.58,
  26.6, 1.85, 27.4, 1.55, 27.8, 1.88, 28.3, 1.58, 28.7, 1.9, 29.1, 1.55, 29.5, 1.9, 30.0, 1.62, 30.4, 1.92, 31.0, 1.58,
  31.6, 1.95, 32.0, 1.62, 32.7, 1.65, 33.1, 1.98, 33.6, 1.65, 34.0, 2.0, 34.5, 1.8, 35.0, 1.75, 35.4, 1.85, 36.0, 1.85,
  36.3, 1.75, 35.5, 2.2, 36.0, 2.4, 37.2, 2.2, 37.8, 2.6, 39.2, 2.7, 40.4, 2.55, 40.2, 3.0, 41.0, 3.05, 28.5, 1.95,
  30.0, 1.95,
];

// ---- B, mPAP ----
const b2Blue = [
  33.2, 5.59, 33.6, 5.22, 33.8, 4.94, 34.4, 4.85, 35.2, 4.93, 35.9, 5.2, 37.3, 5.33, 37.6, 4.98, 38.2, 4.73, 32.7, 4.36,
  33.4, 4.22, 34.5, 4.24, 36.5, 4.41, 37.3, 4.32, 37.2, 4.16, 38.3, 3.88, 35.2, 3.95, 33.9, 3.82, 36.9, 3.93, 36.6, 3.69,
  32.2, 3.71, 32.9, 3.61, 35.3, 3.56, 35.9, 3.4, 38.0, 3.45, 38.2, 3.29, 38.0, 3.21, 31.0, 3.29, 31.9, 3.24, 32.4, 3.08,
  33.1, 3.16, 34.5, 3.08, 35.2, 2.97, 35.9, 2.87, 36.9, 2.81, 36.9, 2.66, 36.7, 2.52, 37.1, 2.26, 38.2, 2.55, 33.9, 2.92,
  33.8, 2.76, 33.1, 2.66, 32.4, 2.76, 34.5, 2.66, 34.5, 2.34, 34.1, 2.23, 34.5, 2.07, 34.8, 1.86, 34.8, 1.76, 34.1, 1.65,
  33.3, 1.65, 32.4, 2.13, 32.6, 2.39, 31.7, 2.39, 31.5, 2.07, 31.0, 1.92, 31.9, 1.76, 32.4, 1.49,
  26.8, 1.7, 27.5, 1.54, 28.2, 1.65, 28.9, 1.54, 29.2, 1.7, 29.9, 1.6, 30.3, 1.44, 31.0, 1.49, 29.6, 1.39, 28.5, 1.39,
  27.8, 1.39, 28.9, 1.8, 29.9, 1.8, 30.6, 1.65, 31.7, 1.6, 30.3, 1.75, 29.6, 1.97, 30.6, 1.97, 25.4, 1.49, 24.7, 1.6,
  26.2, 1.45, 27.2, 1.45, 28.0, 1.55, 30.8, 1.55, 26.0, 1.6, 35.5, 3.2, 36.0, 3.6, 33.2, 3.4, 37.4, 3.05,
  27.2, 1.62, 28.0, 1.45, 28.6, 1.7, 29.2, 1.45, 29.6, 1.6, 30.0, 1.4, 30.8, 1.8, 31.3, 1.45, 31.5, 1.85, 29.0, 1.9,
  26.5, 1.5, 27.5, 1.75, 31.3, 2.2, 32.0, 2.0, 33.0, 2.0, 33.5, 2.4, 33.0, 2.9, 34.0, 2.5, 35.5, 2.7, 35.0, 3.5,
  36.2, 3.2, 34.8, 3.8,
];
const b2Orange = [
  14.6, 1.54, 15.0, 1.44, 15.3, 1.6, 15.6, 1.39, 16.0, 1.49, 16.3, 1.65, 16.7, 1.39, 15.3, 1.76, 16.0, 1.81, 17.4, 1.39,
  18.1, 1.49, 18.8, 1.39, 19.5, 1.44, 19.8, 1.54, 20.5, 1.44, 21.2, 1.49, 21.9, 1.44, 22.6, 1.49, 17.1, 1.92, 17.7, 1.97,
  18.4, 2.02, 19.8, 2.0, 20.5, 2.02, 21.2, 2.05, 21.9, 2.02, 22.6, 2.05, 23.3, 1.97, 24.0, 2.02, 24.7, 2.07, 25.4, 2.18,
  26.1, 2.23, 26.8, 2.34, 27.5, 2.44, 28.2, 2.55, 28.9, 2.6, 29.6, 2.66, 30.3, 2.76, 31.0, 2.87, 31.7, 2.92, 32.4, 2.97,
  29.9, 2.55, 29.2, 2.44, 28.5, 2.34, 27.8, 2.23, 27.2, 2.13, 31.0, 2.55, 32.0, 2.66, 28.2, 2.13, 26.1, 2.49, 25.4, 1.86,
  24.0, 1.65, 21.9, 1.76, 20.5, 1.81, 16.8, 1.6, 17.8, 1.7, 19.0, 1.75, 23.2, 1.6, 24.5, 1.8, 26.5, 2.0, 30.5, 2.35,
  32.2, 2.45, 31.3, 2.7, 27.0, 2.55, 29.0, 2.25, 18.5, 1.25, 20.0, 1.3, 22.0, 1.3,
  15.0, 1.65, 15.8, 1.55, 16.5, 1.5, 17.0, 1.48, 17.5, 1.6, 18.0, 1.4, 18.5, 1.6, 19.0, 1.5, 19.5, 1.65, 20.0, 1.45,
  20.8, 1.6, 21.5, 1.55, 22.2, 1.6, 23.0, 1.5, 23.8, 1.5, 24.0, 1.85, 25.0, 2.0, 25.8, 2.1, 26.5, 2.25, 27.2, 2.35,
  28.0, 2.45, 28.7, 2.5, 29.3, 2.55, 30.0, 2.7, 30.8, 2.75, 31.5, 2.85, 32.3, 2.85, 28.0, 2.3, 29.8, 2.4, 30.9, 2.45,
  16.0, 1.7, 17.5, 1.85,
];
const b2Yellow = [
  16.5, 1.15, 17.0, 1.02, 17.7, 1.12, 18.4, 1.02, 19.1, 1.12, 19.8, 1.02, 20.5, 1.12, 21.2, 0.91, 21.2, 0.86, 21.9, 0.91,
  22.6, 1.02, 23.3, 0.96, 23.0, 1.17, 24.0, 1.17, 24.7, 1.28, 25.4, 1.33, 26.1, 1.44, 26.3, 1.17, 21.9, 1.17, 20.5, 1.28,
  19.1, 1.28, 17.7, 1.28, 18.4, 1.39, 19.8, 1.39, 21.9, 1.33, 23.3, 1.39, 24.7, 1.54, 25.4, 1.62, 26.8, 1.86, 27.8, 1.6,
  28.9, 2.23, 29.9, 2.44, 30.6, 2.6, 31.3, 2.76, 32.0, 3.32, 32.7, 3.45, 30.3, 2.23, 22.3, 1.1, 20.2, 0.98, 18.0, 1.2,
  25.0, 1.05, 23.8, 1.05,
  17.0, 1.2, 17.5, 1.05, 18.0, 1.1, 18.7, 1.15, 19.0, 1.0, 19.5, 1.15, 20.0, 1.05, 20.8, 1.05, 21.5, 1.05, 21.5, 0.95,
  22.0, 1.05, 22.8, 1.15, 23.2, 1.05, 23.6, 1.12, 24.3, 1.05, 24.4, 1.25, 25.0, 1.2, 25.5, 1.25, 19.0, 1.35, 20.5, 1.35,
  22.5, 1.25, 24.0, 1.35, 25.8, 1.5, 27.0, 1.55, 28.0, 2.0, 29.2, 2.0, 26.0, 1.3,
];
const b2Purple = [
  13.4, 2.0, 13.6, 1.92, 14.3, 2.07, 14.6, 1.81, 14.9, 1.97, 15.6, 2.07, 16.3, 1.97, 17.4, 2.18, 18.1, 2.07, 18.8, 2.18,
  19.5, 2.07, 20.2, 2.18, 20.9, 2.07, 21.6, 2.23, 15.6, 2.23, 16.3, 2.29, 15.9, 2.44, 16.6, 2.55, 17.6, 2.44, 18.3, 2.55,
  19.0, 2.66, 19.7, 2.55, 20.4, 2.44, 21.1, 2.34, 19.0, 2.34, 18.1, 2.81, 18.7, 2.87, 19.0, 3.08, 18.8, 3.24, 19.4, 3.29,
  19.1, 3.5, 19.8, 3.66, 20.2, 3.88, 20.5, 4.03, 21.2, 4.16, 21.9, 4.22, 21.6, 4.0, 22.3, 4.33, 22.6, 4.49, 22.3, 4.65,
  22.5, 4.81, 22.6, 4.97, 22.8, 5.04, 23.1, 4.81, 23.3, 4.6, 23.0, 4.33, 23.3, 4.16, 23.0, 3.99, 22.3, 3.83, 21.9, 3.66,
  21.6, 3.5, 21.2, 3.34, 20.9, 3.18, 20.5, 3.02, 20.2, 2.81, 20.5, 2.66, 21.9, 3.03, 22.6, 3.18, 23.0, 3.34, 22.6, 3.5,
  23.3, 3.61, 24.0, 3.5, 24.0, 3.71, 24.4, 3.93, 24.7, 4.14, 25.1, 4.03, 25.4, 4.08, 24.4, 4.35, 24.7, 3.66, 25.1, 3.5,
  25.4, 3.4, 25.8, 3.82, 26.1, 3.71, 26.5, 3.56, 26.8, 3.4, 27.0, 3.24, 26.5, 3.18, 26.1, 3.29, 25.4, 3.24, 24.7, 3.18,
  24.0, 3.13, 22.6, 3.03, 21.2, 2.76, 21.9, 2.66, 24.7, 2.76, 20.4, 4.19, 21.9, 4.46, 17.0, 2.3, 18.0, 2.3, 19.5, 2.8,
  20.0, 2.3, 21.0, 2.55, 17.0, 2.1, 16.0, 2.1, 22.0, 2.4, 23.5, 3.3,
  17.0, 2.45, 17.5, 2.6, 18.0, 2.4, 18.5, 2.3, 18.6, 2.7, 19.2, 2.45, 19.5, 2.65, 20.0, 2.5, 20.0, 2.7, 20.5, 2.25,
  20.8, 2.55, 21.2, 2.5, 21.5, 2.4, 22.0, 2.25, 16.5, 2.2, 17.3, 2.7, 19.5, 3.0, 19.8, 3.4, 20.2, 3.3, 19.9, 3.1,
  20.5, 3.5, 20.3, 3.7, 21.0, 3.6, 21.0, 3.9, 21.4, 3.75, 22.0, 3.9, 22.5, 3.7, 22.5, 4.1, 22.8, 4.0, 23.0, 3.6,
  23.5, 3.85, 23.8, 4.0, 23.8, 3.35, 24.3, 3.6, 25.0, 3.9, 25.5, 3.6, 24.5, 3.45, 21.5, 3.1, 22.3, 2.9, 20.8, 2.9,
  22.0, 4.7, 23.0, 4.6, 15.0, 2.15, 14.0, 1.95, 18.5, 2.0,
];
const b2Green = [
  16.7, 2.02, 16.7, 1.86, 17.0, 1.7, 17.7, 1.92, 18.1, 1.7, 18.4, 1.81, 18.8, 1.6, 19.1, 1.86, 19.8, 1.7, 20.5, 1.92,
  20.9, 1.7, 21.6, 1.6, 21.9, 1.86, 22.3, 1.7, 23.0, 1.92, 23.3, 1.76, 24.0, 1.86, 24.4, 1.7, 25.1, 1.92, 25.4, 1.81,
  26.1, 2.07, 26.5, 1.97, 27.5, 2.29, 28.2, 2.44, 31.0, 2.23, 32.0, 3.02, 32.4, 3.13, 32.2, 3.24, 33.4, 3.24, 33.8, 3.08,
  34.3, 3.45, 35.9, 3.26, 34.3, 2.81, 32.4, 2.5, 32.0, 2.29, 32.4, 1.78, 31.0, 1.65, 21.8, 2.55, 25.4, 2.49, 30.3, 2.34,
  29.6, 2.07, 17.5, 1.8, 19.5, 1.95, 20.2, 1.6, 22.6, 1.8, 23.8, 1.65, 25.8, 1.75, 27.0, 2.1, 28.5, 2.2, 29.0, 2.45,
  30.8, 2.6, 31.5, 2.75, 33.0, 2.9, 26.5, 2.3, 28.0, 2.6,
  17.0, 1.95, 17.4, 1.6, 17.8, 1.75, 18.4, 1.95, 18.6, 1.7, 19.0, 1.7, 19.4, 1.75, 19.8, 1.85, 20.2, 1.75, 20.6, 1.62,
  21.0, 1.85, 21.3, 1.75, 21.8, 1.7, 22.0, 1.95, 22.6, 1.62, 23.0, 1.75, 23.6, 1.9, 24.2, 1.6, 24.8, 1.8, 25.2, 1.65,
  25.6, 1.95, 26.2, 1.9, 27.0, 2.3, 27.8, 2.2, 28.5, 2.4, 29.2, 2.6, 30.0, 2.5, 30.5, 2.8, 31.5, 2.5, 31.0, 3.0,
];

// ---- B, dPAP ----
const b3Blue = [
  24.8, 5.61, 25.3, 5.25, 30.2, 5.35, 28.3, 5.22, 25.8, 4.95, 25.8, 4.86, 28.1, 4.95, 29.6, 5.0, 30.8, 4.74, 24.3, 4.37,
  25.4, 4.21, 26.9, 4.27, 28.5, 4.42, 29.6, 4.16, 29.0, 4.08, 31.0, 3.92, 29.4, 3.92, 28.5, 3.97, 23.8, 3.74, 25.0, 3.68,
  26.1, 3.84, 27.1, 3.76, 28.2, 3.68, 29.7, 3.68, 23.3, 3.6, 24.0, 3.47, 25.0, 3.58, 25.7, 3.44, 27.8, 3.52, 29.6, 3.47,
  30.4, 3.47, 31.0, 3.34, 31.2, 3.23, 27.1, 3.26, 26.4, 3.15, 27.5, 3.1, 28.3, 3.05, 29.2, 3.18, 29.4, 2.99, 28.5, 2.89,
  28.2, 2.78, 28.9, 2.68, 29.6, 2.6, 30.3, 2.57, 31.1, 2.57, 29.6, 2.25, 27.8, 2.57, 28.2, 2.36, 27.1, 2.31, 26.4, 2.2,
  27.1, 2.04, 27.3, 1.96, 27.8, 1.83, 27.5, 1.72, 26.8, 1.67, 26.1, 1.62,
  24.0, 3.15, 24.7, 3.05, 25.4, 2.94, 24.0, 2.84, 24.7, 2.73, 25.4, 2.62, 26.1, 2.84, 25.7, 2.52, 25.0, 2.41, 24.3, 2.31,
  23.6, 2.2, 23.3, 2.04, 22.6, 1.93, 21.9, 1.83, 22.6, 1.72, 24.0, 1.93, 24.7, 2.04, 25.4, 2.15, 25.0, 1.88, 24.3, 1.67,
  23.6, 1.56, 22.9, 1.51, 22.2, 1.46, 21.5, 1.4, 21.2, 1.51, 25.0, 1.51, 25.7, 1.46, 24.0, 1.46, 23.3, 2.31, 20.5, 1.46,
  25.4, 1.72, 26.5, 1.9, 26.0, 2.4, 23.0, 1.75, 20.8, 1.6,
  22.0, 1.6, 22.8, 1.65, 23.4, 1.8, 24.4, 1.8, 25.2, 2.0, 25.8, 2.3, 26.3, 2.6, 26.7, 2.95, 27.3, 2.7, 27.6, 3.35,
  28.0, 3.2, 28.6, 3.5, 26.8, 3.55, 25.6, 3.1, 24.5, 2.6, 23.8, 2.1, 21.8, 1.6, 20.0, 1.55, 19.5, 1.5,
];
const b3Orange = [
  10.3, 1.35, 11.0, 1.46, 11.7, 1.3, 12.4, 1.4, 13.1, 1.3, 12.1, 1.51, 13.5, 1.51, 14.2, 1.62, 14.9, 1.56, 15.6, 1.62,
  16.3, 1.67, 17.0, 1.72, 17.7, 1.78, 18.4, 1.83, 19.1, 1.88, 15.6, 1.93, 14.2, 1.93, 13.5, 1.93, 12.1, 1.93, 11.0, 1.99,
  17.0, 2.04, 17.7, 2.15, 18.4, 2.25, 19.1, 2.36, 18.7, 2.52, 19.1, 2.68, 19.8, 2.62, 20.5, 2.46, 21.2, 2.36, 21.9, 2.52,
  22.6, 2.62, 23.3, 2.73, 24.0, 2.84, 24.3, 2.94, 25.0, 2.89, 24.0, 2.62, 23.3, 2.52, 22.6, 2.41, 21.9, 2.31, 21.2, 2.2,
  20.5, 2.09, 19.8, 1.99, 19.4, 2.15, 20.1, 2.31, 22.9, 2.84, 19.8, 2.36, 20.5, 2.84, 22.6, 2.94, 16.3, 2.25, 19.4, 1.78,
  20.5, 1.83, 11.5, 1.7, 13.0, 1.7, 16.0, 1.8, 18.0, 1.6, 21.5, 2.65, 23.8, 2.4, 24.6, 2.55, 15.5, 2.05, 14.5, 1.75,
  10.8, 1.4, 11.5, 1.5, 12.0, 1.35, 12.8, 1.5, 13.5, 1.4, 14.0, 1.5, 14.5, 1.6, 15.2, 1.7, 16.0, 1.6, 16.8, 1.8,
  17.4, 1.65, 18.1, 1.9, 18.8, 2.0, 19.5, 2.05, 20.0, 2.15, 20.6, 2.25, 21.4, 2.45, 22.0, 2.65, 22.6, 2.75, 23.4, 2.95,
  24.2, 2.7, 24.8, 2.75, 20.8, 2.55, 19.5, 2.5, 18.0, 2.35, 17.3, 2.3,
  10.5, 1.5, 11.3, 1.4, 12.4, 1.55, 13.2, 1.6, 14.0, 1.45, 14.8, 1.5, 15.6, 1.75, 16.4, 1.55, 17.2, 1.6, 18.0, 1.75,
  18.6, 1.7, 19.8, 1.8, 20.4, 2.0, 21.0, 2.3, 21.8, 2.4, 22.4, 2.5, 23.0, 2.55, 23.6, 2.65, 24.4, 2.85, 21.2, 2.6,
  22.2, 2.85, 20.0, 2.75,
];
const b3Yellow = [
  8.8, 1.14, 9.65, 1.14, 10.3, 1.09, 11.0, 1.14, 11.4, 1.03, 12.1, 1.09, 12.8, 0.98, 13.3, 0.87, 13.8, 0.93, 14.5, 0.98,
  15.2, 1.03, 15.6, 0.93, 16.3, 1.09, 17.0, 1.14, 17.7, 1.19, 18.4, 1.25, 19.1, 1.35, 19.8, 1.46, 20.3, 1.62, 20.5, 1.72,
  12.4, 1.25, 13.5, 1.3, 14.9, 1.19, 16.3, 1.3, 17.0, 1.35, 17.7, 1.46, 18.4, 1.51, 19.1, 1.56, 11.4, 1.35, 12.1, 1.46,
  14.2, 1.46, 15.6, 1.51, 17.0, 1.56, 13.8, 1.09, 21.9, 2.89, 23.3, 3.26, 25.0, 3.47, 25.0, 3.18, 22.6, 2.31, 20.1, 2.31,
  21.9, 2.36, 24.0, 2.46, 25.0, 2.73, 9.0, 1.05, 10.0, 1.2, 11.8, 1.2, 14.0, 1.2, 15.8, 1.2, 18.8, 1.7, 16.5, 1.45,
  9.2, 1.1, 9.8, 1.05, 10.6, 1.15, 11.2, 1.2, 11.6, 1.1, 12.4, 1.0, 12.6, 1.15, 13.0, 1.05, 13.5, 0.95, 14.1, 1.05,
  14.5, 1.1, 14.8, 0.92, 15.4, 1.1, 15.9, 1.05, 16.6, 1.2, 17.3, 1.25, 17.9, 1.3, 18.7, 1.4, 19.5, 1.6, 20.0, 1.8,
  20.5, 1.95, 13.0, 1.4, 14.6, 1.35, 15.4, 1.4, 16.2, 1.4, 18.0, 1.6, 19.5, 1.75, 21.0, 2.1, 22.0, 2.6, 23.0, 2.7,
  24.0, 2.9,
  9.4, 1.2, 10.2, 1.12, 10.8, 1.05, 11.8, 1.05, 12.2, 1.22, 13.2, 1.15, 13.8, 1.2, 14.3, 0.95, 15.0, 1.15, 15.6, 1.25,
  16.0, 1.15, 16.8, 1.3, 17.5, 1.4, 18.2, 1.4, 19.0, 1.45, 19.8, 1.6, 20.2, 1.7, 17.2, 1.5, 16.4, 1.55, 14.2, 1.35,
];
const b3Purple = [
  16.5, 5.03, 17.5, 5.03, 16.8, 4.9, 17.0, 4.74, 17.3, 4.64, 17.1, 4.48, 17.7, 4.37, 17.9, 4.21, 17.5, 4.05, 16.8, 4.27,
  16.3, 4.11, 15.6, 4.0, 15.2, 3.84, 14.9, 3.68, 14.7, 3.52, 14.5, 3.37, 14.2, 3.21, 13.8, 3.05, 13.5, 2.89, 13.1, 2.73,
  12.8, 2.57, 12.4, 2.41, 11.7, 2.36, 11.0, 2.31, 10.7, 2.46, 11.4, 2.52, 12.1, 2.62, 10.7, 2.15, 10.0, 2.2, 9.3, 2.15,
  8.6, 2.2, 8.3, 2.09, 7.7, 2.0, 10.0, 2.04, 11.4, 2.15, 12.1, 2.2, 12.8, 2.25, 13.5, 2.31, 14.2, 2.36, 14.9, 2.41,
  15.6, 2.36, 16.3, 2.31, 13.5, 2.46, 14.2, 2.57, 14.9, 2.68, 15.6, 2.84, 16.3, 2.99, 17.0, 3.15, 17.7, 3.31, 18.4, 3.47,
  19.1, 3.58, 19.8, 3.68, 21.2, 3.47, 21.9, 3.37, 22.3, 3.26, 21.5, 3.21, 20.1, 3.26, 19.4, 3.15, 18.7, 3.05, 18.0, 2.89,
  17.3, 2.73, 16.6, 2.57, 16.3, 3.47, 16.6, 3.68, 17.0, 3.9, 15.9, 3.79, 15.6, 3.58, 15.9, 3.37, 15.6, 3.15, 15.9, 2.94,
  14.9, 3.05, 14.5, 2.73, 18.4, 3.74, 19.4, 4.11, 19.1, 3.84, 18.4, 3.26, 16.3, 4.42, 12.8, 3.0, 12.4, 2.84, 9.0, 2.0,
  11.0, 2.0, 13.0, 2.1, 14.0, 2.2, 15.0, 2.2, 20.8, 3.55, 17.5, 3.0, 16.8, 2.8, 15.2, 2.5, 11.8, 2.5, 9.8, 2.4,
  8.8, 2.05, 9.5, 2.05, 10.3, 2.1, 10.5, 2.3, 11.2, 2.4, 11.5, 2.25, 12.0, 2.35, 12.5, 2.2, 13.0, 2.35, 13.2, 2.55,
  13.8, 2.4, 14.0, 2.6, 14.5, 2.5, 14.5, 2.3, 15.0, 2.35, 15.3, 2.65, 15.8, 2.5, 16.0, 2.75, 16.5, 2.4, 17.0, 2.55,
  17.5, 2.85, 16.0, 3.1, 16.5, 3.3, 17.0, 3.5, 17.3, 3.7, 17.6, 3.55, 18.0, 3.6, 18.5, 3.55, 19.0, 3.4, 18.2, 3.1,
  19.0, 3.25, 19.7, 3.45, 20.5, 3.4, 21.0, 3.3, 21.6, 3.45, 16.5, 3.85, 17.0, 4.2, 16.3, 3.6, 13.5, 2.2, 12.2, 2.0,
  8.0, 2.15, 8.5, 2.3, 9.2, 2.3, 9.7, 2.25, 10.2, 2.35, 10.6, 2.6, 11.0, 2.5, 11.8, 2.7, 12.3, 2.75, 12.0, 2.45,
  12.6, 2.65, 13.0, 2.6, 13.4, 2.7, 13.8, 2.75, 14.2, 2.85, 14.6, 2.95, 15.0, 2.9, 15.4, 2.95, 15.6, 2.65, 16.0, 2.55,
  16.4, 2.7, 16.8, 2.6, 17.2, 2.4, 17.6, 2.5, 14.0, 2.4, 13.2, 2.4, 12.6, 2.3, 11.3, 2.3, 10.0, 2.3, 9.5, 2.35,
  9.0, 2.25,
];
const b3Green = [
  7.6, 1.88, 8.0, 1.56, 8.3, 1.77, 8.6, 1.93, 9.0, 1.67, 9.3, 1.83, 9.65, 1.62, 10.0, 1.77, 10.3, 1.56, 10.7, 1.88,
  11.0, 1.67, 11.4, 1.77, 11.7, 1.62, 12.1, 1.83, 12.8, 1.72, 13.1, 1.88, 13.5, 1.67, 13.8, 1.83, 14.2, 1.93, 14.9, 1.77,
  15.2, 1.93, 15.6, 1.83, 16.3, 1.93, 17.0, 1.88, 17.3, 1.99, 18.0, 1.88, 18.4, 1.99, 19.1, 1.93, 19.8, 1.99, 20.5, 2.04,
  21.2, 1.99, 18.7, 2.15, 17.3, 2.2, 19.8, 2.2, 20.5, 2.31, 21.2, 2.41, 21.9, 2.52, 23.3, 2.73, 24.7, 2.94, 25.0, 3.37,
  27.5, 3.47, 27.0, 3.15, 26.1, 2.52, 28.5, 3.26, 22.2, 1.62, 13.8, 1.4, 11.0, 2.57, 21.2, 3.1, 21.9, 3.15, 21.5, 2.89,
  22.6, 2.94, 23.2, 2.51, 8.2, 2.0, 9.8, 1.95, 12.4, 1.95, 16.0, 1.75, 18.2, 1.75, 22.0, 2.05, 23.0, 2.2, 24.0, 2.6,
  7.8, 1.7, 8.4, 1.6, 8.8, 1.85, 9.2, 1.55, 9.6, 1.9, 10.2, 1.68, 10.5, 1.95, 11.2, 1.9, 11.4, 1.6, 12.0, 1.7,
  12.4, 1.6, 12.6, 1.85, 13.3, 1.78, 13.6, 1.95, 14.0, 1.7, 14.6, 1.85, 15.4, 1.75, 15.8, 2.0, 16.6, 1.85, 17.6, 1.92,
  18.2, 2.1, 19.4, 2.05, 20.2, 2.2, 20.8, 2.1, 21.6, 2.3, 22.4, 2.55, 23.0, 2.75, 24.0, 2.85, 24.5, 3.1,
  8.0, 1.82, 8.6, 1.7, 9.4, 1.7, 10.4, 1.8, 10.8, 1.6, 11.6, 1.85, 12.2, 1.75, 13.0, 1.6, 13.6, 1.65, 14.4, 1.75,
  15.0, 1.9, 15.6, 1.95, 16.2, 1.8, 16.8, 1.95, 17.0, 1.75, 17.8, 1.85, 18.6, 1.95, 19.0, 2.1, 19.6, 1.9, 20.2, 2.0,
  21.0, 2.2, 21.8, 2.05, 22.6, 2.35, 23.6, 2.45,
];

const panels = [
  { xLabel: "sPAP [mmHg]", xDomain: [0, 60], xTicks: papTicksA, yDomain: [0, 12], yTicks: pwvTicksA,
    left: 216, right: 1372, top: 188, bottom: 1022, yLabelOff: 122,
    series: [a1Blue, a1Orange, a1Yellow, a1Purple, a1Green] },
  { xLabel: "mPAP [mmHg]", xDomain: [0, 60], xTicks: papTicksA, yDomain: [0, 12], yTicks: pwvTicksA,
    left: 270, right: 1423, top: 1317, bottom: 2152, yLabelOff: 126,
    series: [a2Blue, a2Orange, a2Yellow, a2Purple, a2Green] },
  { xLabel: "dPAP [mmHg]", xDomain: [0, 60], xTicks: papTicksA, yDomain: [0, 12], yTicks: pwvTicksA,
    left: 270, right: 1423, top: 2452, bottom: 3287, yLabelOff: 126,
    series: [a3Blue, a3Orange, a3Yellow, a3Purple, a3Green] },
  { xLabel: "sPAP [mmHg]", xDomain: [7, 50], xTicks: papTicksB, yDomain: [0, 6], yTicks: pwvTicksB,
    left: 1738, right: 2904, top: 190, bottom: 1022, yLabelOff: 84,
    series: [b1Blue, b1Orange, b1Yellow, b1Purple, b1Green] },
  { xLabel: "mPAP [mmHg]", xDomain: [7, 50], xTicks: papTicksB, yDomain: [0, 6], yTicks: pwvTicksB,
    left: 1738, right: 2904, top: 1317, bottom: 2152, yLabelOff: 84,
    series: [b2Blue, b2Orange, b2Yellow, b2Purple, b2Green] },
  { xLabel: "dPAP [mmHg]", xDomain: [7, 50], xTicks: papTicksB, yDomain: [0, 6], yTicks: pwvTicksB,
    left: 1738, right: 2904, top: 2452, bottom: 3287, yLabelOff: 84,
    series: [b3Blue, b3Orange, b3Yellow, b3Purple, b3Green] },
];

const FONT = "'Liberation Sans', Arial, Helvetica, sans-serif";
const TEXT = "#262626";
const AXIS = "#555555";

export default function App() {
  const svgRef = useRef<SVGSVGElement | null>(null);

  useEffect(() => {
    document.body.style.margin = "0";
    if (!svgRef.current) return;
    const svg = d3.select(svgRef.current);
    svg.selectAll("*").remove();

    panels.forEach((p) => {
      const x = d3.scaleLinear().domain(p.xDomain).range([p.left, p.right]);
      const y = d3.scaleLinear().domain(p.yDomain).range([p.bottom, p.top]);
      const g = svg.append("g");

      // scatter, drawn in MATLAB order so green ends up on top
      p.series.forEach((flat, i) => {
        const pts = d3.range(0, flat.length, 2).map((k) => [flat[k], flat[k + 1]]);
        g.append("g")
          .attr("fill", seriesColors[i])
          .selectAll("circle")
          .data(pts)
          .join("circle")
          .attr("cx", (d) => x(d[0]))
          .attr("cy", (d) => y(d[1]))
          .attr("r", 8.5);
      });

      const xAxis = g
        .append("g")
        .attr("transform", `translate(0,${p.bottom})`)
        .call(
          d3.axisBottom(x).tickValues(p.xTicks).tickSizeInner(-12).tickSizeOuter(0).tickPadding(47).tickFormat(d3.format("d"))
        );
      const yAxis = g
        .append("g")
        .attr("transform", `translate(${p.left},0)`)
        .call(
          d3.axisLeft(y).tickValues(p.yTicks).tickSizeInner(-12).tickSizeOuter(0).tickPadding(26).tickFormat(d3.format("d"))
        );
      [xAxis, yAxis].forEach((a) => {
        a.select(".domain").attr("stroke", AXIS).attr("stroke-width", 2.2);
        a.selectAll(".tick line").attr("stroke", AXIS).attr("stroke-width", 2.2);
        a.selectAll(".tick text").attr("fill", TEXT).attr("font-size", 68).attr("font-family", FONT);
      });

      g.append("text")
        .attr("x", (p.left + p.right) / 2)
        .attr("y", p.bottom + 190)
        .attr("text-anchor", "middle")
        .attr("font-family", FONT)
        .attr("font-size", 78)
        .attr("fill", TEXT)
        .text(p.xLabel);

      g.append("text")
        .attr("transform", `translate(${p.left - p.yLabelOff},${(p.top + p.bottom) / 2}) rotate(-90)`)
        .attr("text-anchor", "middle")
        .attr("font-family", FONT)
        .attr("font-size", 78)
        .attr("fill", TEXT)
        .text("PWV [m/s]");
    });

    // panel letters
    svg.append("text").attr("x", 22).attr("y", 102).attr("font-family", FONT).attr("font-size", 96).attr("fill", "#000").text("A");
    svg.append("text").attr("x", 1586).attr("y", 102).attr("font-family", FONT).attr("font-size", 96).attr("fill", "#000").text("B");
  }, []);

  return <svg ref={svgRef} width={2967} height={3530} style={{ display: "block", background: "#fff" }} />;
}
